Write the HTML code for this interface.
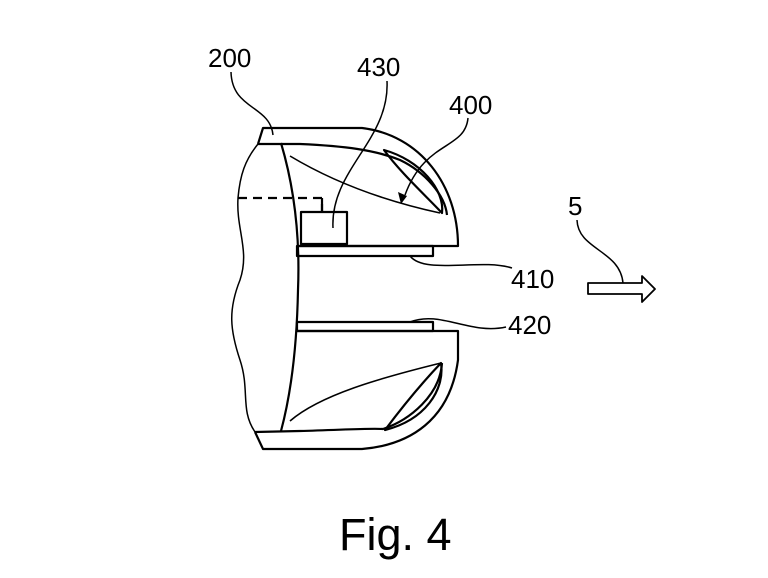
<!DOCTYPE html>
<html><head><style>html,body{margin:0;padding:0;background:#fff}svg{display:block}text{font-family:"Liberation Sans",sans-serif;fill:#000}</style></head>
<body>
<svg width="768" height="578" viewBox="0 0 768 578" xmlns="http://www.w3.org/2000/svg">
<g fill="none" stroke="#000" stroke-width="2.2" stroke-linejoin="round">
<path d="M258,144 L263,128 L362,128 C420,135 458,185 458,246 L297,246"/>
<path d="M258,144 L300,144 C345,146 375,150 400,160 C425,172 445,195 447,215"/>
<path d="M290,156 C330,180 380,200 440,213" stroke-width="1.6"/>
<path d="M384,150 C420,160 445,190 442,213 C425,195 400,172 384,150 Z"/>
<rect x="297" y="246" width="136" height="10"/>
<rect x="301" y="212" width="46" height="32"/>
<path d="M238,198 L322,198 L322,212" stroke-dasharray="9,6"/>
<path d="M322,198 L322,212"/>
<rect x="297" y="322" width="136" height="9"/>
<path d="M297,331 L458,331 L458,360 C450,420 410,445 362,449 L263,449 L255,432"/>
<path d="M255,432 L300,431 C340,430 370,428 383,429 C410,420 440,395 442,363"/>
<path d="M290,421 C320,395 380,378 441,363" stroke-width="1.6"/>
<path d="M441,363 C445,390 425,420 385,430 C400,410 420,385 441,363 Z"/>
<path d="M281,143 C295,190 300,240 298,290 C297,340 292,390 281,431"/>
<path d="M258,144 C245,160 240,175 238,198 C236,230 250,250 240,280 C228,310 230,330 240,360 C250,390 240,410 255,432" stroke-width="1.5"/>
<path d="M231,72 C232,110 270,105 273,135" stroke-width="1.5"/>
<path d="M387,81 C390,140 330,170 333,228" stroke-width="1.5"/>
<path d="M468,118 C465,150 425,140 405,195" stroke-width="1.5"/>
<path d="M410,256 C425,275 480,258 512,268" stroke-width="1.5"/>
<path d="M410,322 C440,310 470,335 506,327" stroke-width="1.5"/>
<path d="M577,220 C578,250 620,250 623,283" stroke-width="1.5"/>
<path d="M588,283 L642,283 L642,276 L655,289 L642,302 L642,294 L588,294 Z" stroke-width="1.8"/>
</g>
<path d="M401,204 L398,192 L407,196 Z" fill="#000"/>
<text x="208" y="67" font-size="26">200</text>
<text x="357" y="76" font-size="26">430</text>
<text x="449" y="114" font-size="26">400</text>
<text x="511" y="288" font-size="26">410</text>
<text x="508" y="334" font-size="26">420</text>
<text x="568" y="215" font-size="26">5</text>
<text x="339" y="550" font-size="45">Fig. 4</text>
</svg>
</body></html>
